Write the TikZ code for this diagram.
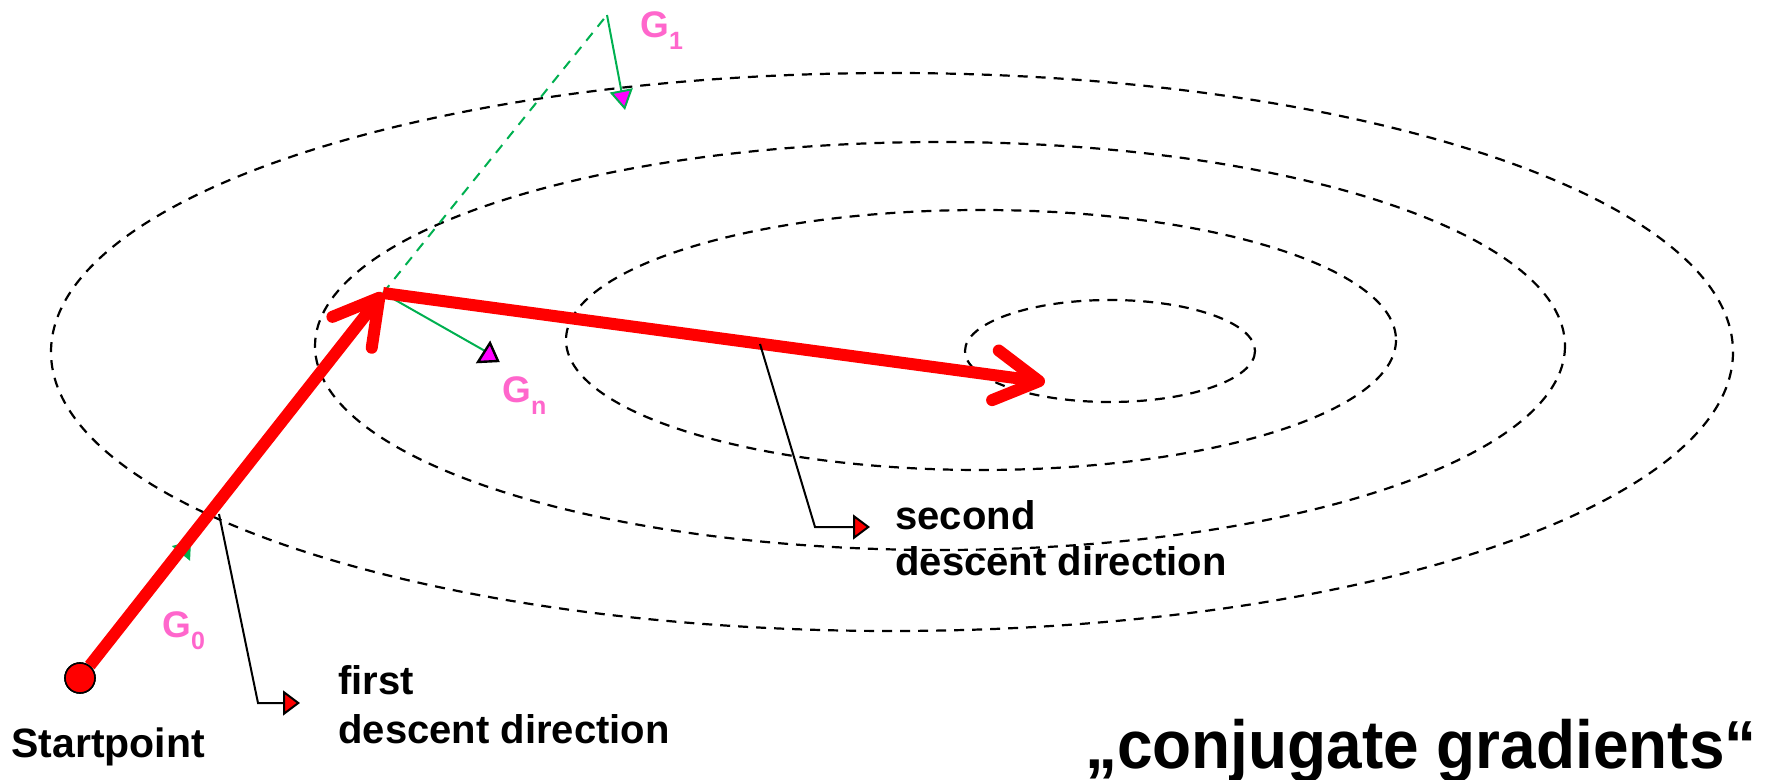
\documentclass[tikz,border=0pt]{standalone}
\usepackage{fontspec}
\setmainfont{Liberation Sans}
\usetikzlibrary{arrows.meta}
\definecolor{cgreen}{RGB}{0,176,80}
\definecolor{cpink}{RGB}{255,102,204}
\definecolor{cmag}{RGB}{255,0,255}
\newcommand{\Gsub}[1]{G\raisebox{-6pt}{\fontsize{12.5}{12.5}\selectfont #1}}
\begin{document}
\begin{tikzpicture}[x=0.5pt,y=-0.5pt,
  contour/.style={draw=black, line width=1.1pt, dash pattern=on 5pt off 4pt},
  gdash/.style={draw=cgreen, line width=1pt, dash pattern=on 5pt off 4pt},
  gline/.style={draw=cgreen, line width=1pt},
  redarrow/.style={draw=red, line width=6pt, -{Straight Barb[length=22pt,width=25pt,round]}},
  callout/.style={draw=black, line width=1pt, -{Triangle[length=8.5pt,width=12.5pt,fill=red]}},
  startdot/.style={circle, fill=red, draw=black, line width=0.8pt, minimum size=15pt, inner sep=0pt},
  lbl/.style={inner sep=0pt, font=\fontsize{20.5}{24}\selectfont\bfseries},
  lbltwo/.style={inner sep=0pt, font=\fontsize{20}{24}\selectfont\bfseries},
  glbl/.style={inner sep=0pt, text=cpink, font=\fontsize{18.5}{22}\selectfont\bfseries},
  titlelbl/.style={inner sep=0pt, font=\fontsize{34}{40}\selectfont\bfseries}]
\useasboundingbox (0,0) rectangle (1777,780);
% contour lines
\draw[contour] (892,352) ellipse [x radius=841, y radius=279];
\draw[contour] (940,346) ellipse [x radius=625, y radius=204];
\draw[contour] (981,340) ellipse [x radius=415, y radius=130];
\draw[contour] (1110,351) ellipse [x radius=145, y radius=51];
% points
\node[startdot] (start) at (80,678) {};
\coordinate (p1) at (383,293);
\coordinate (p2) at (1045,382);
\coordinate (g1s) at (607,15);
\coordinate (g1t) at (625,110);
\coordinate (gne) at (485,351);
\coordinate (g0t) at (191,541);
\coordinate (c1a) at (219,514);
\coordinate (c1b) at (258,703);
\coordinate (c1c) at (300,703);
\coordinate (c2a) at (760,344);
\coordinate (c2b) at (815,527);
\coordinate (c2c) at (870,527);
% gradients
\draw[gdash] (p1) -- (g1s);
\draw[gline, -{Triangle[length=10pt,width=11.5pt,fill=cmag]}] (g1s) -- (g1t);
\draw[gline] (p1) -- (gne);
\filldraw[fill=cmag, draw=black, line width=1.2pt] (490,343) -- (478,362) -- (498,361) -- cycle;
\draw[gline, -{Triangle[length=8pt,width=11.5pt,fill=cgreen]}] (start) -- (g0t);
% descent directions
\draw[redarrow] (start) -- (p1);
\draw[redarrow] (p1) -- (p2);
\node[startdot] at (start) {};
% callouts
\draw[callout] (c1a) -- (c1b) -- (c1c);
\draw[callout] (c2a) -- (c2b) -- (c2c);
% labels
\node[lbl, anchor=base west] (tstart) at (11,757) {Startpoint};
\node[lbltwo, anchor=base west] (tfirst) at (338,694) {first};
\node[lbltwo, anchor=base west] (tfirsttwo) at (338,743) {descent direction};
\node[lbltwo, anchor=base west] (tsec) at (895,529) {second};
\node[lbltwo, anchor=base west] (tsectwo) at (895,575) {descent direction};
\node[titlelbl, anchor=base east] (title) at (1757,768) {\scalebox{0.94}[1]{„conjugate gradients“}};
\node[glbl, anchor=base west] (lgone) at (640,38) {\Gsub{1}};
\node[glbl, anchor=base west] (lgzero) at (162,637) {\Gsub{0}};
\node[glbl, anchor=base west] (lgn) at (502,402) {\Gsub{n}};
\end{tikzpicture}
\end{document}
